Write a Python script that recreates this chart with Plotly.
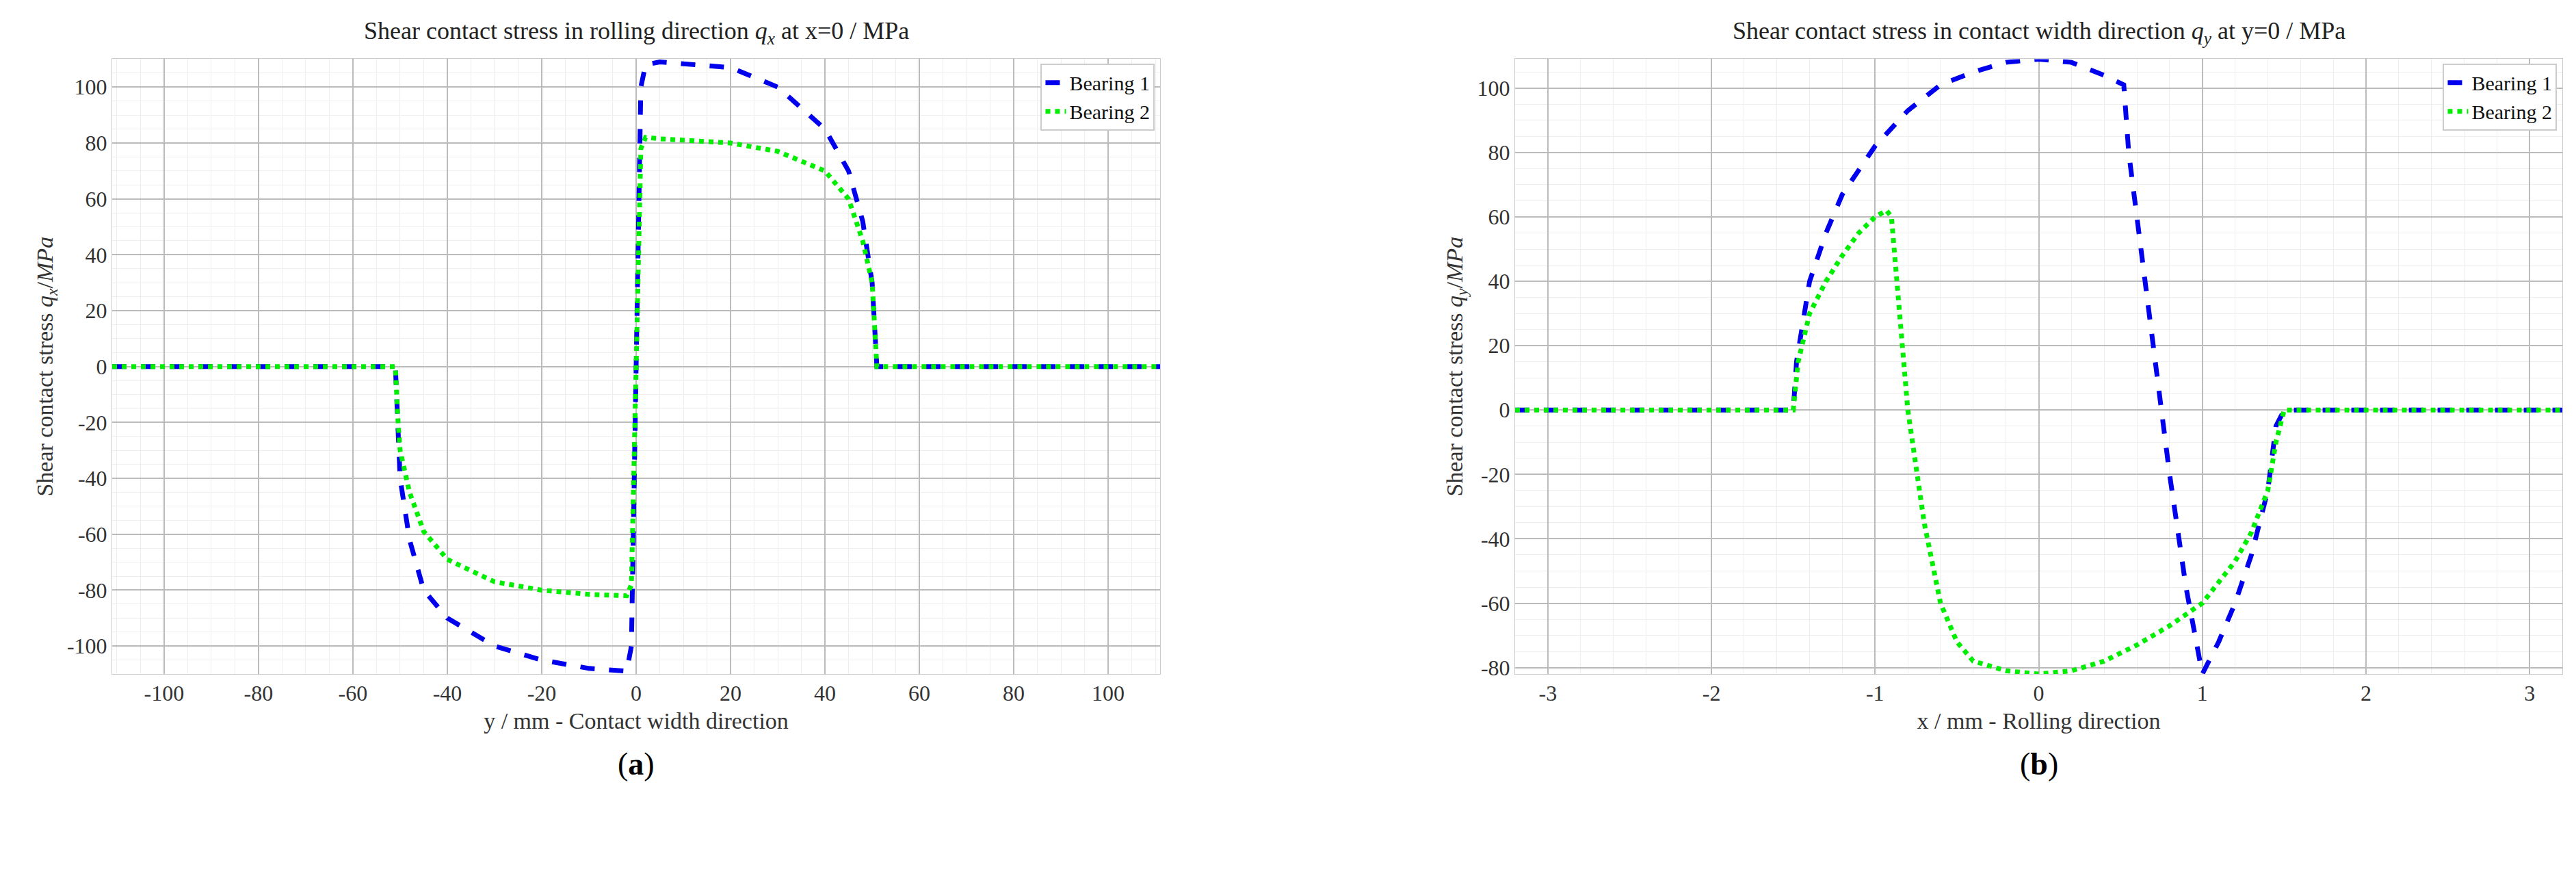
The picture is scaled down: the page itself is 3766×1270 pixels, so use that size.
import plotly.graph_objects as go

y_a = [-111,-51,-50.5,-50,-48,-45,-40,-30,-20,-10,-2,-1,0,0.5,1,2,5,20,30,40,45,48,50,51,111]
qx_b1 = [0,0,-20,-40,-62,-80,-90,-100,-105,-108,-109,-100,0,60,100,108,109,107,100,85,70,52,30,0,0]
qx_b2 = [0,0,-18,-30,-45,-59,-69,-77,-80,-81.5,-82,-78,0,50,78,82,81.5,80,77,70,60,45,30,0,0]

x_b = [-3.2,-1.5,-1.48,-1.4,-1.3,-1.2,-1.0,-0.8,-0.6,-0.4,-0.2,0,0.2,0.4,0.52,0.55,0.6,0.7,0.8,0.9,0.97,1.0,1.1,1.2,1.3,1.4,1.45,1.5,3.2]
qy_b1 = [0,0,15,40,55,67,82,93,101,105,108,109,108,104,101,80,60,20,-20,-55,-75,-82,-72,-60,-45,-25,-5,0,0]
x_b2 = [-3.2,-1.5,-1.47,-1.4,-1.3,-1.2,-1.1,-1.0,-0.93,-0.9,-0.85,-0.8,-0.7,-0.6,-0.5,-0.4,-0.2,0,0.2,0.4,0.6,0.8,1.0,1.2,1.3,1.4,1.45,1.5,3.2]
qy_b2 = [0,0,15,30,40,48,55,60,62,60,30,0,-35,-60,-72,-78,-81,-82,-81,-78,-73,-67,-60,-47,-38,-25,-10,0,0]

ticks_a_x = list(range(-100, 101, 20))
ticks_y = list(range(-100, 101, 20))
ticks_b_x = [-3, -2, -1, 0, 1, 2, 3]

F = "Liberation Serif, DejaVu Serif, serif"
W, H = 3766, 1270
fig = go.Figure()
b1 = dict(color="#0000ee", width=7, dash="dash")
b2 = dict(color="#00ee00", width=7, dash="dot")
fig.add_trace(go.Scatter(x=y_a, y=qx_b1, mode="lines", line=b1, name="Bearing 1", xaxis="x", yaxis="y", legend="legend"))
fig.add_trace(go.Scatter(x=y_a, y=qx_b2, mode="lines", line=b2, name="Bearing 2", xaxis="x", yaxis="y", legend="legend"))
fig.add_trace(go.Scatter(x=x_b, y=qy_b1, mode="lines", line=b1, name="Bearing 1", xaxis="x2", yaxis="y2", legend="legend2"))
fig.add_trace(go.Scatter(x=x_b2, y=qy_b2, mode="lines", line=b2, name="Bearing 2", xaxis="x2", yaxis="y2", legend="legend2"))

def tk(v):
    return dict(tickmode="array", tickvals=v, ticktext=[str(t) for t in v])

ax = dict(showline=True, linecolor="#ccc", gridcolor="#bbb", gridwidth=2, zeroline=False, ticks="",
          tickfont=dict(family=F, size=32, color="#333"), mirror=True)
mn = lambda d: dict(showgrid=True, gridcolor="#eee", gridwidth=1, dtick=d, tickmode="linear")
x1d = [156/W, 1688/W]; x2d = [2207/W, 3738/W]; yd = [1-984/H, 1-79/H]
fig.update_layout(
    width=W, height=H, plot_bgcolor="white", paper_bgcolor="white", margin=dict(l=0,r=0,t=0,b=0),
    font=dict(family=F, color="#333"),
    xaxis=dict(ax, **tk(ticks_a_x), domain=x1d, range=[-111,111], minor=mn(5), anchor="y",
               title=dict(text="y / mm - Contact width direction", font=dict(size=34), standoff=10)),
    yaxis=dict(ax, **tk(ticks_y), domain=yd, range=[-110,110], minor=mn(5), anchor="x",
               title=dict(text="Shear contact stress <i>q<sub>x</sub></i>/<i>MPa</i>", font=dict(size=34), standoff=10)),
    xaxis2=dict(ax, **tk(ticks_b_x), domain=x2d, range=[-3.2,3.2], minor=mn(0.2), anchor="y2",
               title=dict(text="x / mm - Rolling direction", font=dict(size=34), standoff=10)),
    yaxis2=dict(ax, **tk(ticks_y), domain=yd, range=[-82,109], minor=mn(5), anchor="x2",
               title=dict(text="Shear contact stress <i>q<sub>y</sub></i>/<i>MPa</i>", font=dict(size=34), standoff=10)),
    legend=dict(x=x1d[1]-0.002, y=yd[1]-0.005, xanchor="right", yanchor="top", bordercolor="#ccc", borderwidth=2,
                bgcolor="white", font=dict(family=F, size=30, color="#111"), tracegroupgap=0),
    legend2=dict(x=x2d[1]-0.002, y=yd[1]-0.005, xanchor="right", yanchor="top", bordercolor="#ccc", borderwidth=2,
                bgcolor="white", font=dict(family=F, size=30, color="#111"), tracegroupgap=0),
    annotations=[
        dict(text="Shear contact stress in rolling direction <i>q<sub>x</sub></i> at x=0 / MPa", x=sum(x1d)/2, y=1-40/H,
             xref="paper", yref="paper", showarrow=False, font=dict(size=36, color="#222"), xanchor="center", yanchor="middle"),
        dict(text="Shear contact stress in contact width direction <i>q<sub>y</sub></i> at y=0 / MPa", x=sum(x2d)/2, y=1-40/H,
             xref="paper", yref="paper", showarrow=False, font=dict(size=36, color="#222"), xanchor="center", yanchor="middle"),
        dict(text="(<b>a</b>)", x=sum(x1d)/2, y=1-1116/H, xref="paper", yref="paper", showarrow=False,
             font=dict(size=46, color="#000"), xanchor="center", yanchor="middle"),
        dict(text="(<b>b</b>)", x=sum(x2d)/2, y=1-1116/H, xref="paper", yref="paper", showarrow=False,
             font=dict(size=46, color="#000"), xanchor="center", yanchor="middle"),
    ])
fig.write_html("out.html")
